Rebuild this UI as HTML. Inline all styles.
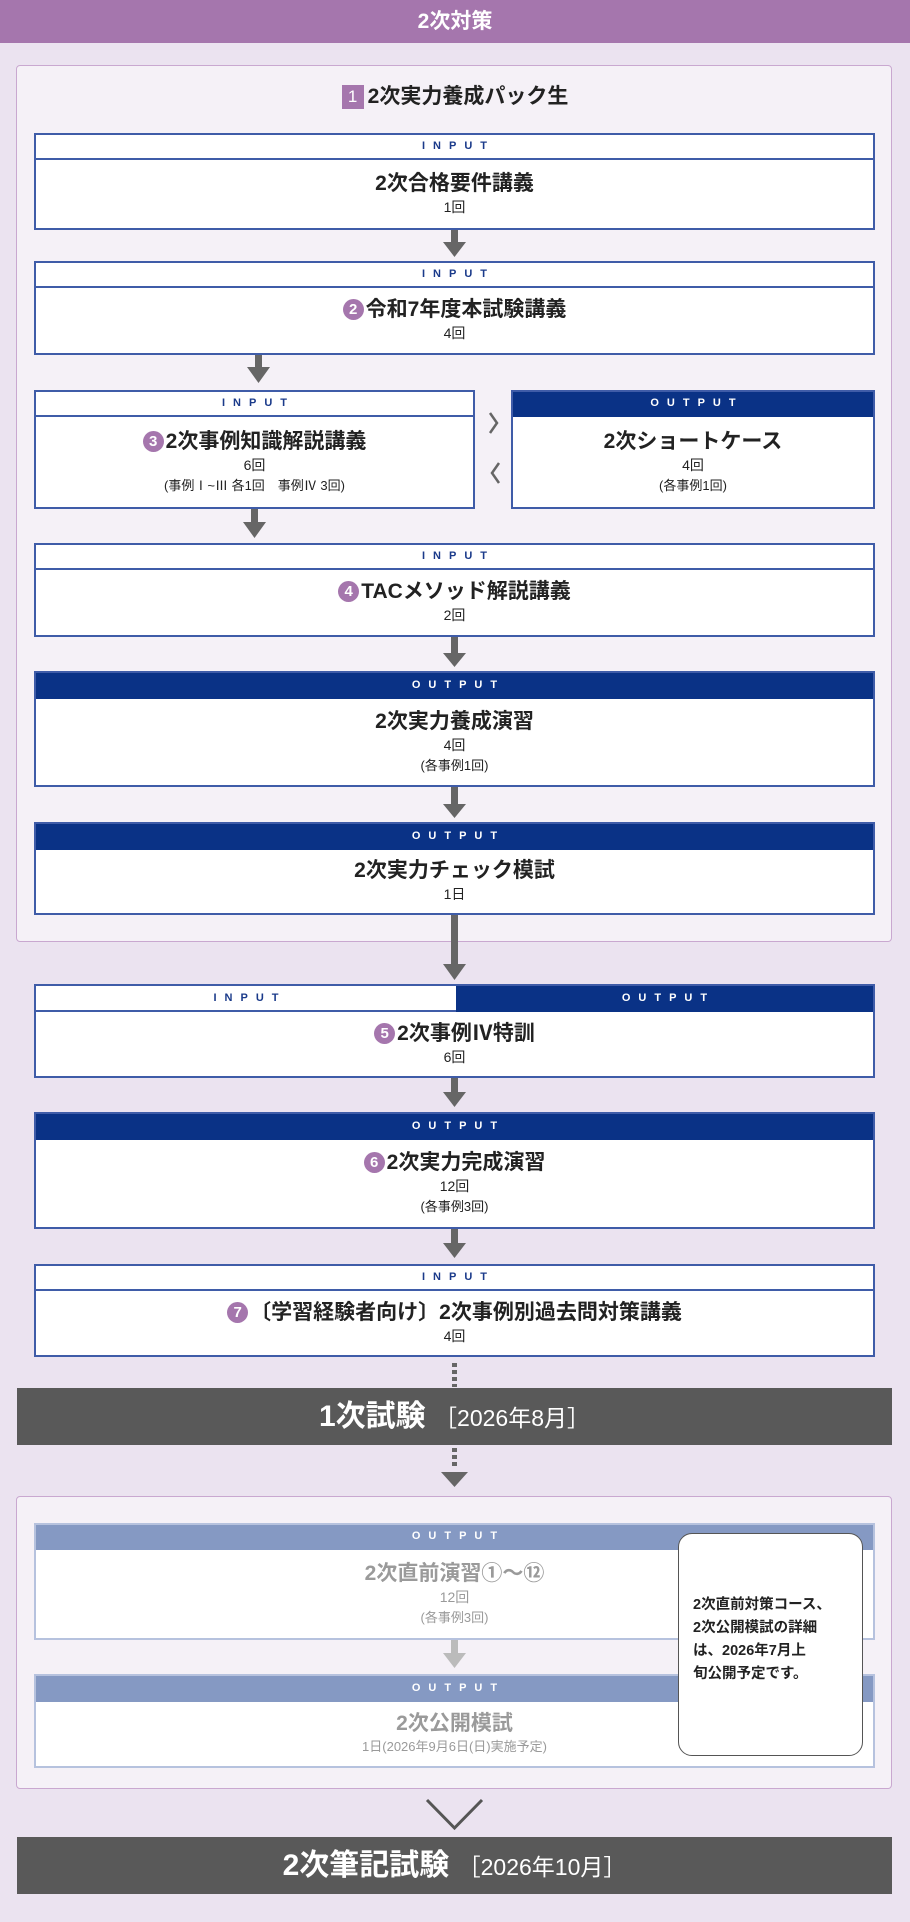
<!DOCTYPE html>
<html><head><meta charset="utf-8"><style>
*{margin:0;padding:0;box-sizing:border-box}
body{width:910px;height:1922px;background:#ebe3f0;position:relative;overflow:hidden;font-family:"Liberation Sans","Noto Sans CJK JP",sans-serif;color:#222}
.a{position:absolute}
.top{left:0;top:0;width:910px;height:43px;background:#a576ad;color:#fff;font-size:21px;font-weight:bold;text-align:center;line-height:43px}
.outer{background:#f5f1f7;border:1.5px solid #c9a8d0;border-radius:4px}
.box{position:absolute;background:#fff;border:2px solid #3f5ca8}
.hd{position:absolute;left:0;right:0;top:0;border-bottom:2px solid #3f5ca8;text-align:center;font-size:11px;font-weight:bold;letter-spacing:8px;color:#1a3a8a;padding-left:8px}
.hd.o{background:#0a3286;color:#fff;border-bottom-color:#0a3286}
.ct{position:absolute;left:0;right:0;bottom:0;display:flex;flex-direction:column;justify-content:center;align-items:center;text-align:center}
.t{font-size:21px;font-weight:bold;line-height:26px;color:#222}
.s{font-size:14px;line-height:21px;color:#222}
.s2{font-size:13px;line-height:20px;color:#222}
.n{display:inline-block;width:21px;height:21px;border-radius:50%;background:#a576ad;color:#fff;font-size:15px;line-height:21px;text-align:center;margin-right:2px;vertical-align:2px;font-weight:bold}
.bar{background:#595959;color:#fff;text-align:center;font-weight:bold}
.fade .t,.fade .s,.fade .s2{color:#9a9a9a}
.fade{border-color:#b6c2de}
.fade .hd{background:#8599c3;border-bottom-color:#8599c3;color:#fff}
</style></head><body>
<div class="a top">2次対策</div>
<div class="a outer" style="left:16px;top:65px;width:876px;height:877px"></div>
<div class="a" style="left:0;width:910px;top:84px;text-align:center;font-size:21px;font-weight:bold;line-height:26px"><span style="display:inline-block;width:22px;height:24px;background:#a576ad;color:#fff;font-size:17px;line-height:24px;vertical-align:1px;margin-right:4px;font-weight:normal">1</span>2次実力養成パック生</div>

<div class="box" style="left:34px;top:133px;width:841px;height:97px"><div class="hd" style="height:25px;line-height:23px">INPUT</div><div class="ct" style="top:25px"><div class="t">2次合格要件講義</div><div class="s">1回</div></div></div>
<div class="box" style="left:34px;top:261px;width:841px;height:94px"><div class="hd" style="height:25px;line-height:23px">INPUT</div><div class="ct" style="top:25px"><div class="t"><span class="n">2</span>令和7年度本試験講義</div><div class="s">4回</div></div></div>
<div class="box" style="left:34px;top:390px;width:441px;height:119px"><div class="hd" style="height:25px;line-height:23px">INPUT</div><div class="ct" style="top:25px"><div class="t"><span class="n">3</span>2次事例知識解説講義</div><div class="s">6回</div><div class="s2">(事例Ⅰ~Ⅲ 各1回　事例Ⅳ 3回)</div></div></div>
<div class="box" style="left:511px;top:390px;width:364px;height:119px"><div class="hd o" style="height:25px;line-height:23px">OUTPUT</div><div class="ct" style="top:25px"><div class="t">2次ショートケース</div><div class="s">4回</div><div class="s2">(各事例1回)</div></div></div>
<div class="box" style="left:34px;top:543px;width:841px;height:94px"><div class="hd" style="height:25px;line-height:23px">INPUT</div><div class="ct" style="top:25px"><div class="t"><span class="n">4</span>TACメソッド解説講義</div><div class="s">2回</div></div></div>
<div class="box" style="left:34px;top:671px;width:841px;height:116px"><div class="hd o" style="height:26px;line-height:24px">OUTPUT</div><div class="ct" style="top:26px"><div class="t">2次実力養成演習</div><div class="s">4回</div><div class="s2">(各事例1回)</div></div></div>
<div class="box" style="left:34px;top:822px;width:841px;height:93px"><div class="hd o" style="height:26px;line-height:24px">OUTPUT</div><div class="ct" style="top:26px"><div class="t">2次実力チェック模試</div><div class="s">1日</div></div></div>

<div class="box" style="left:34px;top:984px;width:841px;height:94px"><div class="hd" style="height:26px;line-height:24px;width:420px;right:auto">INPUT</div><div class="hd o" style="height:26px;line-height:24px;left:420px">OUTPUT</div><div class="ct" style="top:26px"><div class="t"><span class="n">5</span>2次事例Ⅳ特訓</div><div class="s">6回</div></div></div>
<div class="box" style="left:34px;top:1112px;width:841px;height:117px"><div class="hd o" style="height:26px;line-height:24px">OUTPUT</div><div class="ct" style="top:26px"><div class="t"><span class="n">6</span>2次実力完成演習</div><div class="s">12回</div><div class="s2">(各事例3回)</div></div></div>
<div class="box" style="left:34px;top:1264px;width:841px;height:93px"><div class="hd" style="height:25px;line-height:23px">INPUT</div><div class="ct" style="top:25px"><div class="t"><span class="n">7</span>〔学習経験者向け〕2次事例別過去問対策講義</div><div class="s">4回</div></div></div>

<div class="a bar" style="left:17px;top:1388px;width:875px;height:57px;line-height:57px;font-size:30px">1次試験 <span style="font-weight:normal;font-size:23px">［2026年8月］</span></div>

<div class="a outer" style="left:16px;top:1496px;width:876px;height:293px"></div>
<div class="box fade" style="left:34px;top:1523px;width:841px;height:117px"><div class="hd" style="height:25px;line-height:23px">OUTPUT</div><div class="ct" style="top:25px"><div class="t">2次直前演習①～⑫</div><div class="s">12回</div><div class="s2">(各事例3回)</div></div></div>
<div class="box fade" style="left:34px;top:1674px;width:841px;height:94px"><div class="hd" style="height:26px;line-height:24px">OUTPUT</div><div class="ct" style="top:26px"><div class="t">2次公開模試</div><div class="s2">1日(2026年9月6日(日)実施予定)</div></div></div>
<div class="a" style="left:678px;top:1533px;width:185px;height:223px;background:#fff;border:1px solid #555;border-radius:14px;padding:60px 0 0 14px;font-size:14.5px;line-height:23px;font-weight:bold;color:#222">2次直前対策コース、<br>2次公開模試の詳細<br>は、2026年7月上<br>旬公開予定です。</div>

<div class="a bar" style="left:17px;top:1837px;width:875px;height:57px;line-height:57px;font-size:30px">2次筆記試験 <span style="font-weight:normal;font-size:23px">［2026年10月］</span></div>

<svg class="a" style="left:0;top:0" width="910" height="1922">
<g fill="#666">
<rect x="451" y="230" width="7" height="13"/><polygon points="443,242 466,242 454.5,257"/>
<rect x="255" y="355" width="7" height="13"/><polygon points="247,367 270,367 258.5,383"/>
<rect x="251" y="509" width="7" height="14"/><polygon points="243,522 266,522 254.5,538"/>
<rect x="451" y="637" width="7" height="20"/><polygon points="443,653 466,653 454.5,667"/>
<rect x="451" y="787" width="7" height="21"/><polygon points="443,804 466,804 454.5,818"/>
<rect x="451" y="915" width="7" height="52"/><polygon points="443,964 466,964 454.5,980"/>
<rect x="451" y="1078" width="7" height="15"/><polygon points="443,1092 466,1092 454.5,1107"/>
<rect x="451" y="1229" width="7" height="15"/><polygon points="443,1243 466,1243 454.5,1258"/>
<rect x="452" y="1363" width="5" height="4"/><rect x="452" y="1370" width="5" height="4"/><rect x="452" y="1377" width="5" height="4"/><rect x="452" y="1384" width="5" height="3"/>
<rect x="452" y="1448" width="5" height="4"/><rect x="452" y="1455" width="5" height="4"/><rect x="452" y="1462" width="5" height="4"/>
<polygon points="441,1472 468,1472 454.5,1487"/>
</g>
<g fill="#bbb"><rect x="451" y="1640" width="7" height="14"/><polygon points="443,1653 466,1653 454.5,1668"/></g>
<g fill="none" stroke="#666" stroke-width="2.5"><polyline points="490,413 497,423 490,433"/><polyline points="499,463 492,473 499,483"/></g>
<polyline points="427,1800 454.5,1828 482,1800" fill="none" stroke="#555" stroke-width="3"/>
</svg>
</body></html>
